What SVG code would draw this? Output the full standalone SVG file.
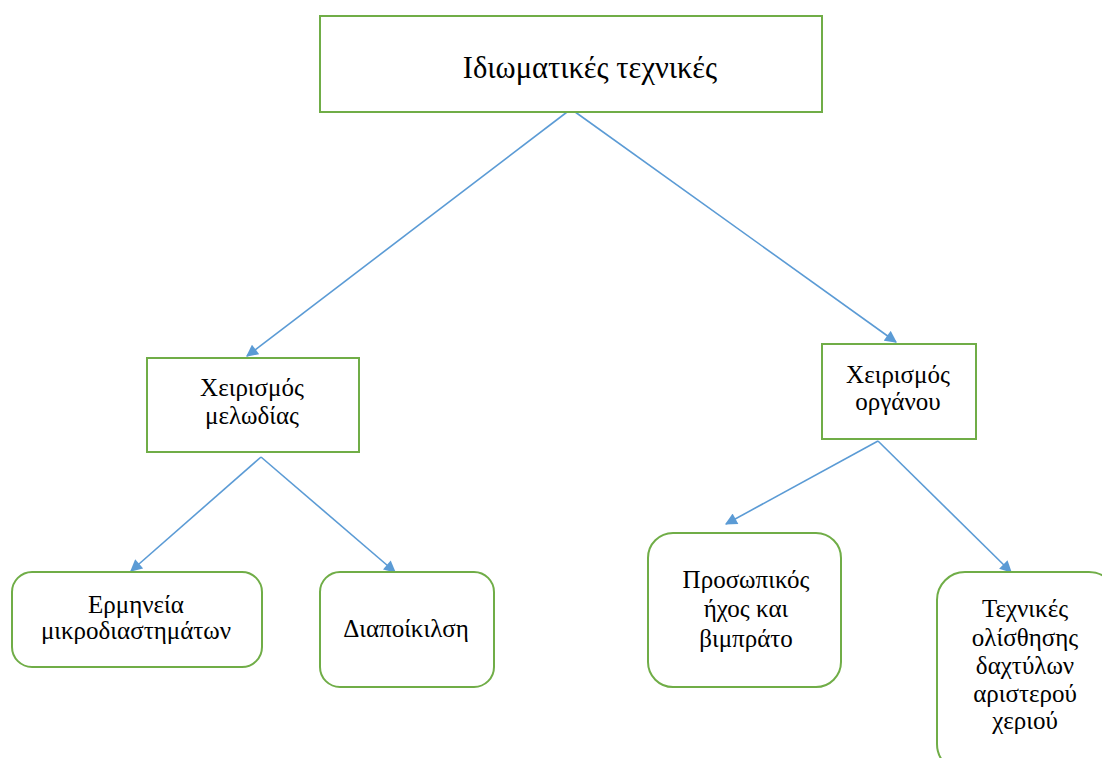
<svg xmlns="http://www.w3.org/2000/svg" width="1102" height="758" viewBox="0 0 1102 758">
<style>
.box{fill:#fff;stroke:#70ad47;stroke-width:2}
.t{font-family:"Liberation Serif","Times New Roman",serif;font-size:25px;fill:#000;text-anchor:middle}
.c{stroke:#5b9bd5;stroke-width:1.6;fill:none;marker-end:url(#ah)}
</style>
<defs>
<marker id="ah" viewBox="0 0 10 10" refX="9" refY="5" markerWidth="13" markerHeight="12" markerUnits="userSpaceOnUse" orient="auto">
<path d="M0,0 L10,5 L0,10 z" fill="#5b9bd5"/>
</marker>
</defs>
<rect width="1102" height="758" fill="#fff"/>
<g id="connectors">
<line class="c" x1="571" y1="109" x2="247" y2="356"/>
<line class="c" x1="571" y1="109" x2="896" y2="342"/>
<line class="c" x1="261" y1="457" x2="131" y2="571"/>
<line class="c" x1="261" y1="457" x2="395" y2="572"/>
<line class="c" x1="878" y1="441" x2="726" y2="524"/>
<line class="c" x1="878" y1="441" x2="1011" y2="572"/>
</g>
<g id="n-root">
<rect class="box" x="320" y="16" width="502" height="96"/>
<text class="t" x="590" y="78" style="font-size:30.5px">Ιδιωματικές τεχνικές</text>
</g>
<g id="n-melodia">
<rect class="box" x="147" y="358" width="212" height="94"/>
<text class="t" x="252" y="396">Χειρισμός</text>
<text class="t" x="252" y="424">μελωδίας</text>
</g>
<g id="n-organou">
<rect class="box" x="822" y="344" width="154" height="95"/>
<text class="t" x="898" y="383">Χειρισμός</text>
<text class="t" x="898" y="410">οργάνου</text>
</g>
<g id="n-ermineia">
<rect class="box" x="12" y="572" width="250" height="95" rx="20"/>
<text class="t" x="136" y="613">Ερμηνεία</text>
<text class="t" x="136" y="639">μικροδιαστημάτων</text>
</g>
<g id="n-diapoikilsi">
<rect class="box" x="320" y="572" width="174" height="115" rx="20"/>
<text class="t" x="406" y="637">Διαποίκιλση</text>
</g>
<g id="n-prosopikos">
<rect class="box" x="648" y="533" width="193" height="154" rx="25"/>
<text class="t" x="746" y="588">Προσωπικός</text>
<text class="t" x="746" y="617">ήχος και</text>
<text class="t" x="746" y="647">βιμπράτο</text>
</g>
<g id="n-texnikes">
<rect class="box" x="937" y="572" width="180" height="200" rx="28"/>
<text class="t" x="1025" y="617">Τεχνικές</text>
<text class="t" x="1025" y="646">ολίσθησης</text>
<text class="t" x="1025" y="674">δαχτύλων</text>
<text class="t" x="1025" y="702">αριστερού</text>
<text class="t" x="1025" y="729">χεριού</text>
</g>
</svg>
